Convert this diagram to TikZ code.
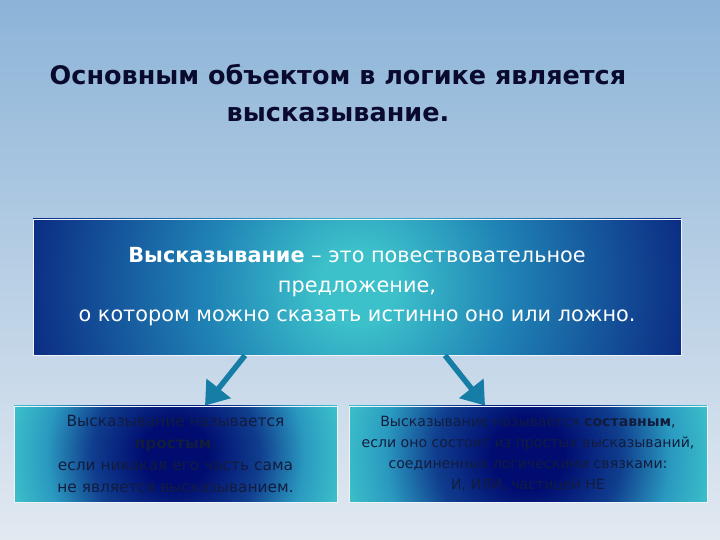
\documentclass[tikz,border=0pt]{standalone}
\usepackage{fontspec}
\setmainfont{DejaVu Sans}
\usepackage{tikz}
\usetikzlibrary{arrows.meta}

\definecolor{skytop}{RGB}{140,180,216}
\definecolor{skybot}{RGB}{226,233,241}
\definecolor{deepnavy}{RGB}{0,12,112}
\definecolor{midblue}{RGB}{16,62,142}
\definecolor{midteal}{RGB}{32,132,182}
\definecolor{lightteal}{RGB}{42,154,192}
\definecolor{glowcyan}{RGB}{60,192,202}
\definecolor{titleink}{RGB}{10,10,46}
\definecolor{boxink}{RGB}{18,28,62}
\definecolor{arrowteal}{RGB}{22,126,166}

\pgfdeclareradialshading{glow}{\pgfpoint{0bp}{0bp}}{color(0bp)=(glowcyan); color(3bp)=(glowcyan); color(11.5bp)=(midteal); color(22.5bp)=(midblue); color(31bp)=(deepnavy); color(50bp)=(deepnavy)}
\pgfdeclareradialshading{dip}{\pgfpoint{0bp}{0bp}}{color(0bp)=(deepnavy); color(5bp)=(deepnavy); color(13bp)=(midblue); color(20bp)=(lightteal); color(26bp)=(glowcyan); color(50bp)=(glowcyan)}

\tikzset{
  mainbox/.style={draw=white!85!skytop, line width=0.8pt,
    path picture={\shade[shading=glow] (path picture bounding box.center)
      +(-326,-326) rectangle +(326,326);},
    minimum width=648pt, minimum height=136pt, align=center, text=white,
    font=\fontsize{20.8}{29.5}\selectfont},
  sidebox/.style={draw=white!85!skytop, line width=0.8pt,
    path picture={\shade[shading=dip] (path picture bounding box.center)
      +(-#1/2,-#1/2) rectangle +(#1/2,#1/2);},
    minimum width=#1, minimum height=96pt, align=center, text=boxink, inner sep=0pt},
  pointer/.style={draw=arrowteal, line width=5.5pt,
    -{Triangle[length=22pt,width=30pt]}}
}

\begin{document}
\begin{tikzpicture}[x=1pt,y=1pt]
    % fond
    \shade[top color=skytop, bottom color=skybot] (0,0) rectangle (720,540);
    \useasboundingbox (0,0) rectangle (720,540);

    % titre
    \node[align=center, text=titleink, font=\fontsize{25.5}{37}\selectfont\bfseries]
      (title) at (338,446.5) {Основным объектом в логике является\\высказывание.};

    % definition
    \node[mainbox] (defn) at (357,253)
      {\textbf{Высказывание} – это повествовательное\\предложение,\\о котором можно сказать истинно оно или ложно.};

    % deux cas
    \node[sidebox=323, font=\fontsize{15.4}{21.7}\selectfont]
      (simple) at (175.5,86)
      {Высказывание называется\\\textbf{простым},\\если никакая его часть сама\\не является высказыванием.};
    \node[sidebox=358, font=\fontsize{14.1}{21}\selectfont]
      (compound) at (528,86)
      {Высказывание называется \textbf{составным},\\если оно состоит из простых высказываний,\\соединенных логическими связками:\\И, ИЛИ, частицей НЕ};

    % fleches
    \draw[pointer] ([xshift=-112pt]defn.south) -- ([xshift=29.5pt]simple.north);
    \draw[pointer] ([xshift=88pt]defn.south) -- ([xshift=-43pt]compound.north);
\end{tikzpicture}
\end{document}
